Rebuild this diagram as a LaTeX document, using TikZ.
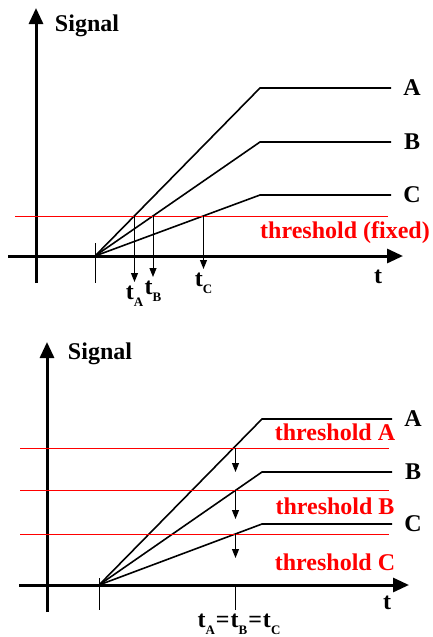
\documentclass[tikz,border=0pt]{standalone}
\usepackage{fontspec}
\setmainfont{Liberation Serif}
\usetikzlibrary{arrows.meta}

\newcommand\lowsub[1]{\raisebox{-0.3em}{\fontsize{13}{13}\selectfont #1}}

\begin{document}
\begin{tikzpicture}[x=1pt,y=-1pt,
 font=\bfseries\fontsize{24}{24}\selectfont,
 axis/.style={line width=3pt,-{Triangle[length=16pt,width=14pt]}},
 ramp/.style={line width=1.6pt},
 thr/.style={red,line width=1pt},
 drop/.style={line width=1pt,-{Triangle[length=9pt,width=7pt]}},
 tick/.style={line width=1pt},
 lbl/.style={inner sep=0pt}]
\useasboundingbox (0,0) rectangle (432,637);

% --- upper panel: fixed threshold
\coordinate (o1) at (95,256);
\draw[axis] (36,283) -- (36,8);
\draw[axis] (8,256) -- (403,256);
\draw[tick] (95,243) -- (95,283);
\node[lbl] (sig1) at (87,26) {Signal};
\node[lbl] (t1) at (378,277) {t};
\foreach \n/\y in {A/88,B/142,C/195} {
  \draw[ramp] (o1) -- (260,\y) -- (391,\y);
  \node[lbl] (l1\n) at (412,\y) {\n};
}
\draw[thr] (15,216) -- (388,216);
\node[lbl,red] (th1) at (345,233) {threshold (fixed)};
\foreach \n/\x/\e in {A/134.5/282,B/153/277,C/203.5/269}
  \draw[drop] (\x,216) -- (\x,\e) node[lbl,below=3pt] (t1\n) {t\lowsub{\n}};

% --- lower panel: one threshold per signal
\coordinate (o2) at (99,585);
\draw[axis] (47,612) -- (47,342);
\draw[axis] (19,585) -- (409,585);
\draw[tick] (99,578) -- (99,610);
\draw[tick] (235.5,585) -- (235.5,610);
\node[lbl] (sig2) at (100,354) {Signal};
\node[lbl] (t2) at (387,603) {t};
\foreach \n/\y in {A/419,B/472,C/524} {
  \draw[ramp] (o2) -- (262,\y) -- (392,\y);
  \node[lbl] (l2\n) at (413,\y) {\n};
}
\foreach \n/\y/\e/\ty in {A/448/472/432,B/490/519/506,C/534/558/562} {
  \draw[thr] (20,\y) -- (389,\y);
  \draw[drop] (235.5,\y) -- (235.5,\e);
  \node[lbl,red] (th2\n) at (335,\ty) {threshold \n};
}
\node[lbl] (teq) at (239,624) {t\lowsub{A}\kern1pt=\kern1pt t\lowsub{B}\kern1pt=\kern1pt t\lowsub{C}};
\end{tikzpicture}
\end{document}
